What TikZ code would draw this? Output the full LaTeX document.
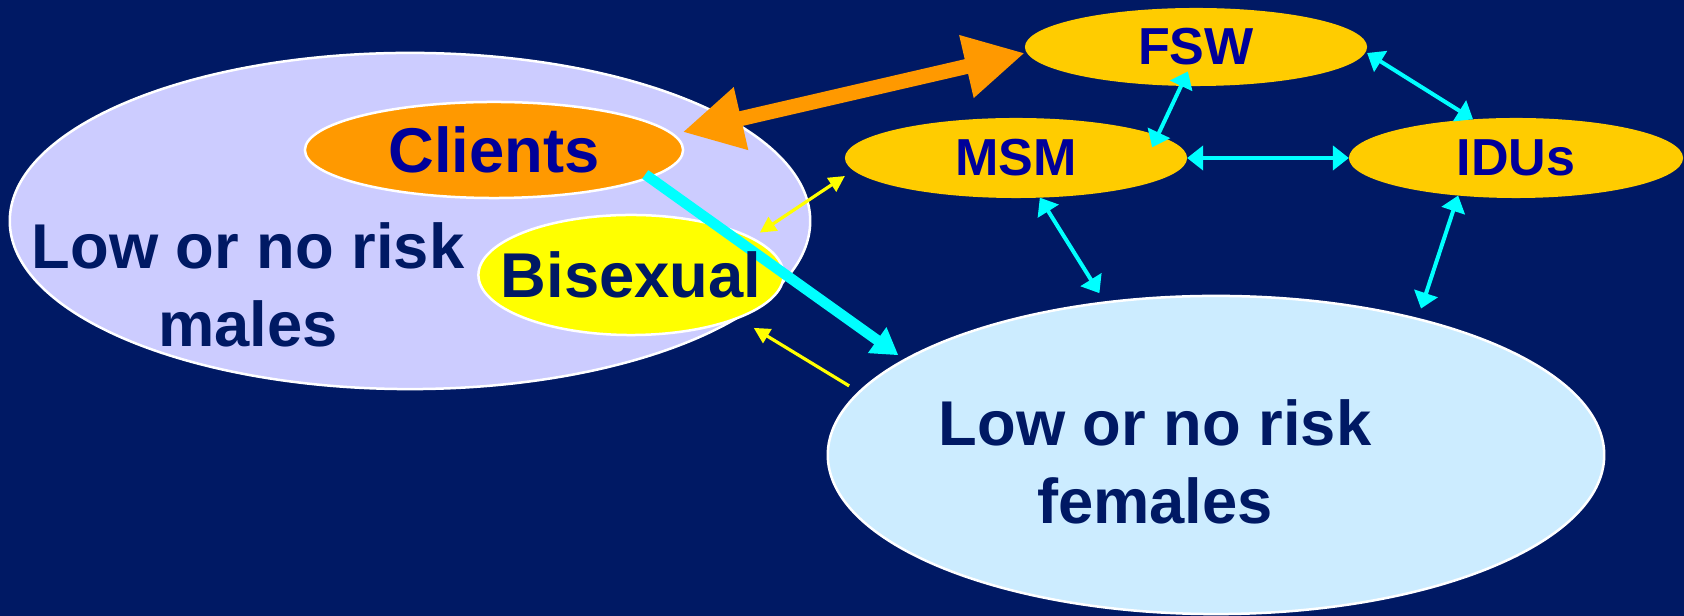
\documentclass[tikz,border=0pt]{standalone}
\usepackage{fontspec}
\setmainfont{Liberation Sans}
\usetikzlibrary{shapes.geometric, arrows.meta}

\definecolor{slidebg}{RGB}{0,25,100}
\definecolor{malefill}{RGB}{204,204,255}
\definecolor{femalefill}{RGB}{204,236,255}
\definecolor{clientorange}{RGB}{255,153,0}
\definecolor{coregold}{RGB}{255,204,0}
\definecolor{labelblue}{RGB}{0,0,153}
\definecolor{linkcyan}{RGB}{0,255,255}
\definecolor{bisyellow}{RGB}{255,255,0}

\begin{document}
\begin{tikzpicture}[
    x=0.01cm, y=-0.01cm,
    font=\bfseries\fontsize{18}{22}\selectfont,
    group/.style={ellipse, inner sep=0pt, outer sep=0pt},
    outlined/.style={group, draw=white, line width=0.25mm},
    core/.style={group, fill=coregold, text=labelblue,
                 font=\bfseries\fontsize{14.8}{18}\selectfont},
    biglbl/.style={align=center, text=slidebg, inner sep=0pt},
    orangear/.style={{Triangle[length=6mm,width=6mm]}-{Triangle[length=6mm,width=6mm]},
                     draw=clientorange, line width=1.5mm},
    cyanfat/.style={-{Triangle[length=2.6mm,width=3mm]}, draw=linkcyan, line width=1.05mm},
    cyanar/.style={{Triangle[length=1.6mm,width=2.4mm]}-{Triangle[length=1.6mm,width=2.4mm]},
                   draw=linkcyan, line width=0.4mm},
    yellowar/.style={-{Triangle[length=1.6mm,width=1.6mm]}, draw=bisyellow, line width=0.32mm},
  ]

  \fill[slidebg] (0,0) rectangle (1684,616);
  \useasboundingbox (0,0) rectangle (1684,616);

  % ---- males side
  \node[outlined, fill=malefill, minimum width=8cm, minimum height=3.36cm] (males) at (410,221) {};
  \node[outlined, fill=clientorange, text=labelblue, minimum width=3.78cm, minimum height=0.96cm]
    (clients) at (494,150) {Clients};
  \node[outlined, fill=bisyellow, minimum width=3.05cm, minimum height=1.2cm] (bis) at (631,275) {};
  \node[biglbl] (maleslbl) at (248,285) {Low or no risk\\males};

  % ---- core groups
  \node[core, minimum width=3.42cm, minimum height=0.78cm] (fsw) at (1196,47) {FSW};
  \node[core, minimum width=3.42cm, minimum height=0.8cm] (msm) at (1016,158) {MSM};
  \node[core, minimum width=3.34cm, minimum height=0.8cm] (idus) at (1516,158) {IDUs};

  % ---- females
  \node[outlined, fill=femalefill, minimum width=7.76cm, minimum height=3.18cm] (females) at (1216,455) {};
  \node[biglbl] (femaleslbl) at (1155,462) {Low or no risk\\females};

  % ---- links
  \draw[orangear, shorten <=1mm] (clients.5) -- ([yshift=-0.6mm]fsw.west);
  \draw[cyanfat, shorten <=-0.5mm, shorten >=0.8mm] (clients.-10) -- (females.163);
  \draw[yellowar, {Triangle[length=1.6mm,width=1.6mm]}-{Triangle[length=1.6mm,width=1.6mm]},
        shorten <=1mm] (bis.17) -- ([yshift=-1.8mm]msm.west);
  \draw[yellowar, shorten <=1.2mm, shorten >=1.9mm] (females.170) -- (bis.-22);

  \draw[cyanar, shorten <=-1.3mm, shorten >=-1.6mm] (msm.9) -- (fsw.249);
  \draw[cyanar] (msm.east) -- (idus.west);
  \draw[cyanar] ([yshift=-0.6mm]fsw.east) -- (idus.138);
  \draw[cyanar, shorten >=1.1mm] (msm.-59) -- (females.126);
  \draw[cyanar, shorten >=1.1mm] (idus.213) -- (females.34);

  % label over the fat link
  \node[biglbl] (bislbl) at (bis.center) {Bisexual};
\end{tikzpicture}
\end{document}
